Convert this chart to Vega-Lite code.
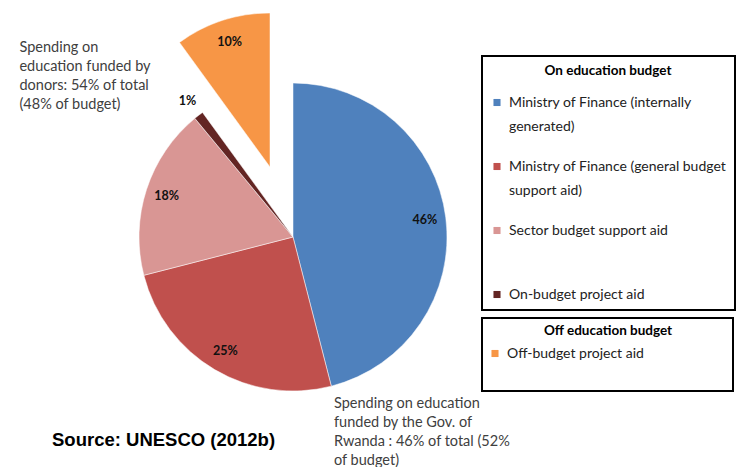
{
  "$schema": "https://vega.github.io/schema/vega-lite/v6.json",
  "width": 586,
  "height": 460,
  "autosize": {"type": "none"},
  "padding": {"left": 0, "top": 7, "right": 156, "bottom": 0},
  "background": "white",
  "config": {
    "view": {"stroke": null},
    "font": "Lato",
    "style": {"guide-label": {"lineHeight": 24}},
    "legend": {"strokeWidth": 2}
  },
  "title": {
    "text": "Source: UNESCO (2012b)",
    "orient": "bottom",
    "anchor": "start",
    "frame": "group",
    "font": "Liberation Sans",
    "fontSize": 18.5,
    "fontWeight": "bold",
    "color": "#000000",
    "offset": 0,
    "dx": 52,
    "dy": -36,
    "baseline": "top"
  },
  "data": {
    "values": [
      {"category": "Ministry of Finance (internally generated)", "group": "On education budget", "value": 46},
      {"category": "Ministry of Finance (general budget support aid)", "group": "On education budget", "value": 25},
      {"category": "Sector budget support aid", "group": "On education budget", "value": 18},
      {"category": "On-budget project aid", "group": "On education budget", "value": 1},
      {"category": "Off-budget project aid", "group": "Off education budget", "value": 10}
    ]
  },
  "transform": [
    {"stack": "value", "groupby": [], "as": ["start", "end"]},
    {"calculate": "(datum.start + datum.end) / 2", "as": "mid"},
    {"calculate": "datum.value + '%'", "as": "pct"}
  ],
  "layer": [
    {
      "transform": [{"filter": "datum.group === 'On education budget'"}],
      "mark": {"type": "arc", "outerRadius": 154, "stroke": "#ffffff", "strokeWidth": 0.5},
      "encoding": {
        "theta": {"field": "start", "type": "quantitative", "scale": {"domain": [0, 100]}},
        "theta2": {"field": "end"},
        "color": {
          "field": "category",
          "type": "nominal",
          "scale": {
            "domain": ["Ministry of Finance (internally generated)", "Ministry of Finance (general budget support aid)", "Sector budget support aid", "On-budget project aid"],
            "range": ["#4F81BD", "#C0504D", "#D99694", "#632523"]
          },
          "legend": {
            "title": "On education budget",
            "orient": "none",
            "legendX": 482,
            "legendY": 49,
            "titleFont": "Lato",
            "titleFontSize": 13.5,
            "titleFontWeight": "bold",
            "titleColor": "#000000",
            "titleAnchor": "middle",
            "titlePadding": 18,
            "strokeColor": "#000000",
            "padding": 8,
            "symbolType": "square",
            "symbolSize": 50,
            "symbolStrokeWidth": 0,
            "symbolOpacity": 1,
            "labelFont": "Lato",
            "labelFontSize": 14,
            "labelColor": "#222222",
            "labelLimit": 400,
            "labelOffset": 5,
            "rowPadding": 26,
            "labelExpr": "datum.label == 'Ministry of Finance (internally generated)' ? ['Ministry of Finance (internally', 'generated)'] : datum.label == 'Ministry of Finance (general budget support aid)' ? ['Ministry of Finance (general budget', 'support aid)'] : datum.label == 'Sector budget support aid' ? ['Sector budget support aid', '\u2800\u2800\u2800\u2800\u2800\u2800\u2800\u2800\u2800\u2800\u2800\u2800\u2800\u2800\u2800\u2800\u2800\u2800\u2800\u2800\u2800'] : datum.label"
          }
        }
      }
    },
    {
      "transform": [{"filter": "datum.group === 'Off education budget'"}],
      "mark": {"type": "arc", "outerRadius": 154, "stroke": "#ffffff", "strokeWidth": 0.5, "xOffset": -23, "yOffset": -70},
      "encoding": {
        "theta": {"field": "start", "type": "quantitative", "scale": {"domain": [0, 100]}},
        "theta2": {"field": "end"},
        "color": {
          "field": "category",
          "type": "nominal",
          "scale": {"domain": ["Off-budget project aid"], "range": ["#F79646"]},
          "legend": {
            "title": "Off education budget",
            "orient": "none",
            "legendX": 482,
            "legendY": 311,
            "titleFont": "Lato",
            "titleFontSize": 13.5,
            "titleFontWeight": "bold",
            "titleColor": "#000000",
            "titleAnchor": "middle",
            "titlePadding": 9,
            "strokeColor": "#000000",
            "padding": 6,
            "symbolType": "square",
            "symbolSize": 50,
            "symbolStrokeWidth": 0,
            "symbolOpacity": 1,
            "labelFont": "Lato",
            "labelFontSize": 14,
            "labelColor": "#222222",
            "labelLimit": 400,
            "labelOffset": 5,
            "labelExpr": "['Off-budget project aid', '\u2800\u2800\u2800\u2800\u2800\u2800\u2800\u2800\u2800\u2800\u2800\u2800\u2800\u2800\u2800\u2800\u2800\u2800\u2800\u2800\u2800\u2800']"
          }
        }
      }
    },
    {
      "transform": [{"filter": "datum.group === 'On education budget' && datum.value > 1"}],
      "mark": {"type": "text", "radius": 133, "font": "Lato", "fontSize": 12.5, "fontWeight": "bold", "color": "#111111"},
      "encoding": {
        "theta": {"field": "mid", "type": "quantitative", "scale": {"domain": [0, 100]}},
        "text": {"field": "pct", "type": "nominal"}
      }
    },
    {
      "transform": [{"filter": "datum.category === 'On-budget project aid'"}],
      "mark": {"type": "text", "radius": 172, "font": "Lato", "fontSize": 12.5, "fontWeight": "bold", "color": "#111111"},
      "encoding": {
        "theta": {"field": "mid", "type": "quantitative", "scale": {"domain": [0, 100]}},
        "text": {"field": "pct", "type": "nominal"}
      }
    },
    {
      "transform": [{"filter": "datum.group === 'Off education budget'"}],
      "mark": {"type": "text", "radius": 131, "font": "Lato", "fontSize": 12.5, "fontWeight": "bold", "color": "#111111", "xOffset": -23, "yOffset": -70},
      "encoding": {
        "theta": {"field": "mid", "type": "quantitative", "scale": {"domain": [0, 100]}},
        "text": {"field": "pct", "type": "nominal"}
      }
    },
    {
      "transform": [{"filter": "datum.category === 'Ministry of Finance (internally generated)'"}],
      "mark": {"type": "text", "radius": 165, "align": "left", "baseline": "top", "font": "Lato", "fontSize": 14.5, "lineHeight": 19, "color": "#404040"},
      "encoding": {
        "theta": {"field": "end", "type": "quantitative", "scale": {"domain": [0, 100]}},
        "text": {"value": ["Spending on education", "funded by the Gov. of", "Rwanda : 46% of total (52%", "of budget)"]}
      }
    },
    {
      "transform": [{"filter": "datum.category === 'Sector budget support aid'"}],
      "mark": {"type": "text", "radius": 255, "dx": -111, "align": "left", "baseline": "top", "font": "Lato", "fontSize": 14.5, "lineHeight": 19, "color": "#404040"},
      "encoding": {
        "theta": {"field": "end", "type": "quantitative", "scale": {"domain": [0, 100]}},
        "text": {"value": ["Spending on", "education funded by", "donors: 54% of total", "(48% of budget)"]}
      }
    }
  ],
  "resolve": {"scale": {"color": "independent"}}
}
